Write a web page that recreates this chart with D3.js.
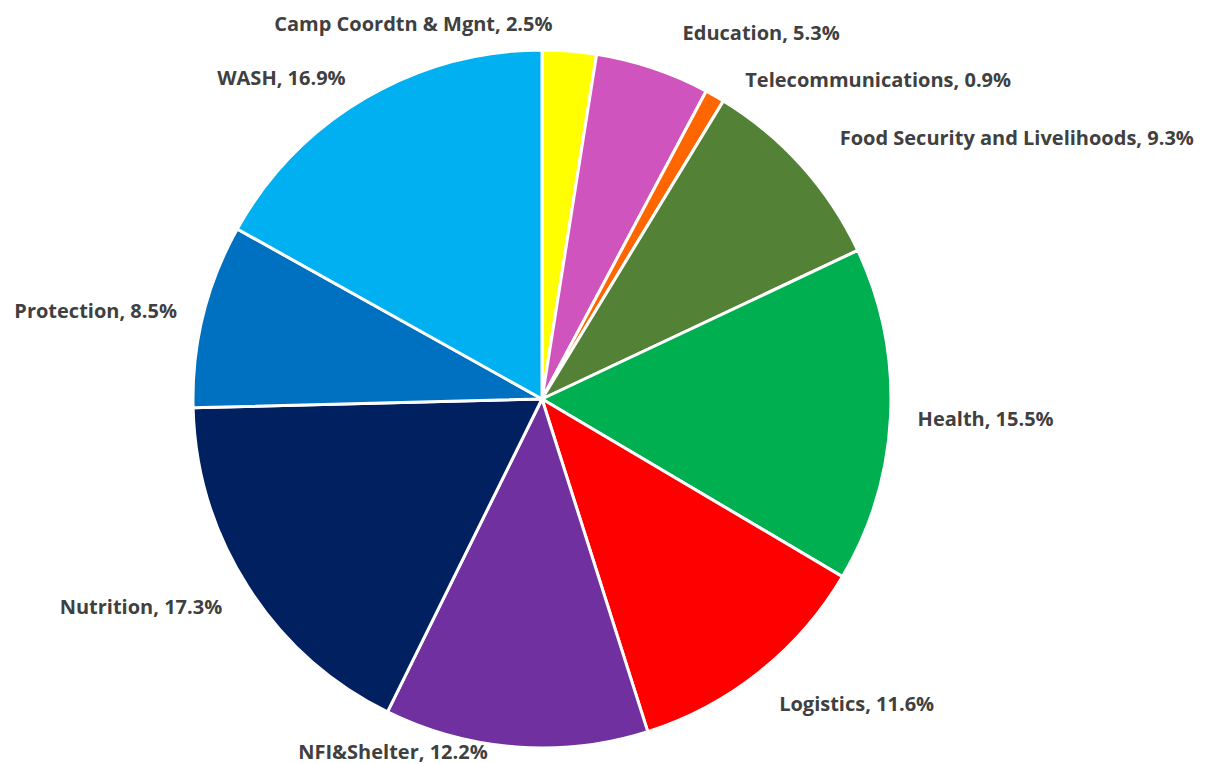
<!DOCTYPE html>
<html>
<head>
<meta charset="utf-8">
<script src="https://cdn.jsdelivr.net/npm/d3@7/dist/d3.min.js"></script>
<style>
  html, body { margin: 0; padding: 0; background: #fff; }
  svg { display: block; }
</style>
</head>
<body>
<div id="chart"></div>
<script>
// sector shares (%), clockwise from 12 o'clock
const sectors = ['Camp Coordtn & Mgnt', 'Education', 'Telecommunications', 'Food Security and Livelihoods',
  'Health', 'Logistics', 'NFI&Shelter', 'Nutrition', 'Protection', 'WASH'];
const shares = [2.5, 5.3, 0.9, 9.3, 15.5, 11.6, 12.2, 17.3, 8.5, 16.9];
const colors = ['#FFFF00', '#D054BE', '#FF6600', '#538135', '#00B050', '#FF0000', '#7030A0', '#002060', '#0070C0', '#00B0F0'];

const width = 1209, height = 764;
const cx = 542, cy = 399, radius = 349;

// hand-moved label offsets (like Excel's dragged data labels), px from the default spot
const labelNudge = [[-19, 0], [21, -10], [17, 8], [18, -10], [0, 2], [3, 11], [-26, -22], [-3, 6], [0, 2], [-6, 3]];

const svg = d3.select('#chart').append('svg').attr('width', width).attr('height', height);
const g = svg.append('g').attr('transform', `translate(${cx},${cy})`);

const data = sectors.map((s, i) => ({ name: s, value: shares[i], color: colors[i] }));

const pie = d3.pie().value(d => d.value).sort(null);
const arc = d3.arc().innerRadius(0).outerRadius(radius);
const arcs = pie(data);

g.selectAll('path.slice')
  .data(arcs)
  .enter().append('path')
  .attr('class', 'slice')
  .attr('d', arc)
  .attr('fill', d => d.data.color)
  .attr('stroke', '#fff')
  .attr('stroke-width', 3)
  .attr('stroke-linejoin', 'round');

// labels sit just outside the rim
const labelR = radius + 27;
g.selectAll('text.lbl')
  .data(arcs)
  .enter().append('text')
  .attr('class', 'lbl')
  .each(function (d, i) {
    const a = (d.startAngle + d.endAngle) / 2;
    const x = Math.sin(a) * labelR + labelNudge[i][0];
    const y = -Math.cos(a) * labelR + labelNudge[i][1];
    // thin top slice gets its label to the left of the rim point
    const anchor = (Math.sin(a) >= 0 && a > 0.2) ? 'start' : 'end';
    d3.select(this).attr('x', x).attr('y', y).attr('text-anchor', anchor);
  })
  .attr('dy', '0.35em')
  .attr('fill', '#404040')
  .attr('font-family', '"Open Sans", sans-serif')
  .attr('font-weight', 'bold')
  .attr('font-size', 20)
  .text(d => `${d.data.name}, ${d.data.value.toFixed(1)}%`);
</script>
</body>
</html>
